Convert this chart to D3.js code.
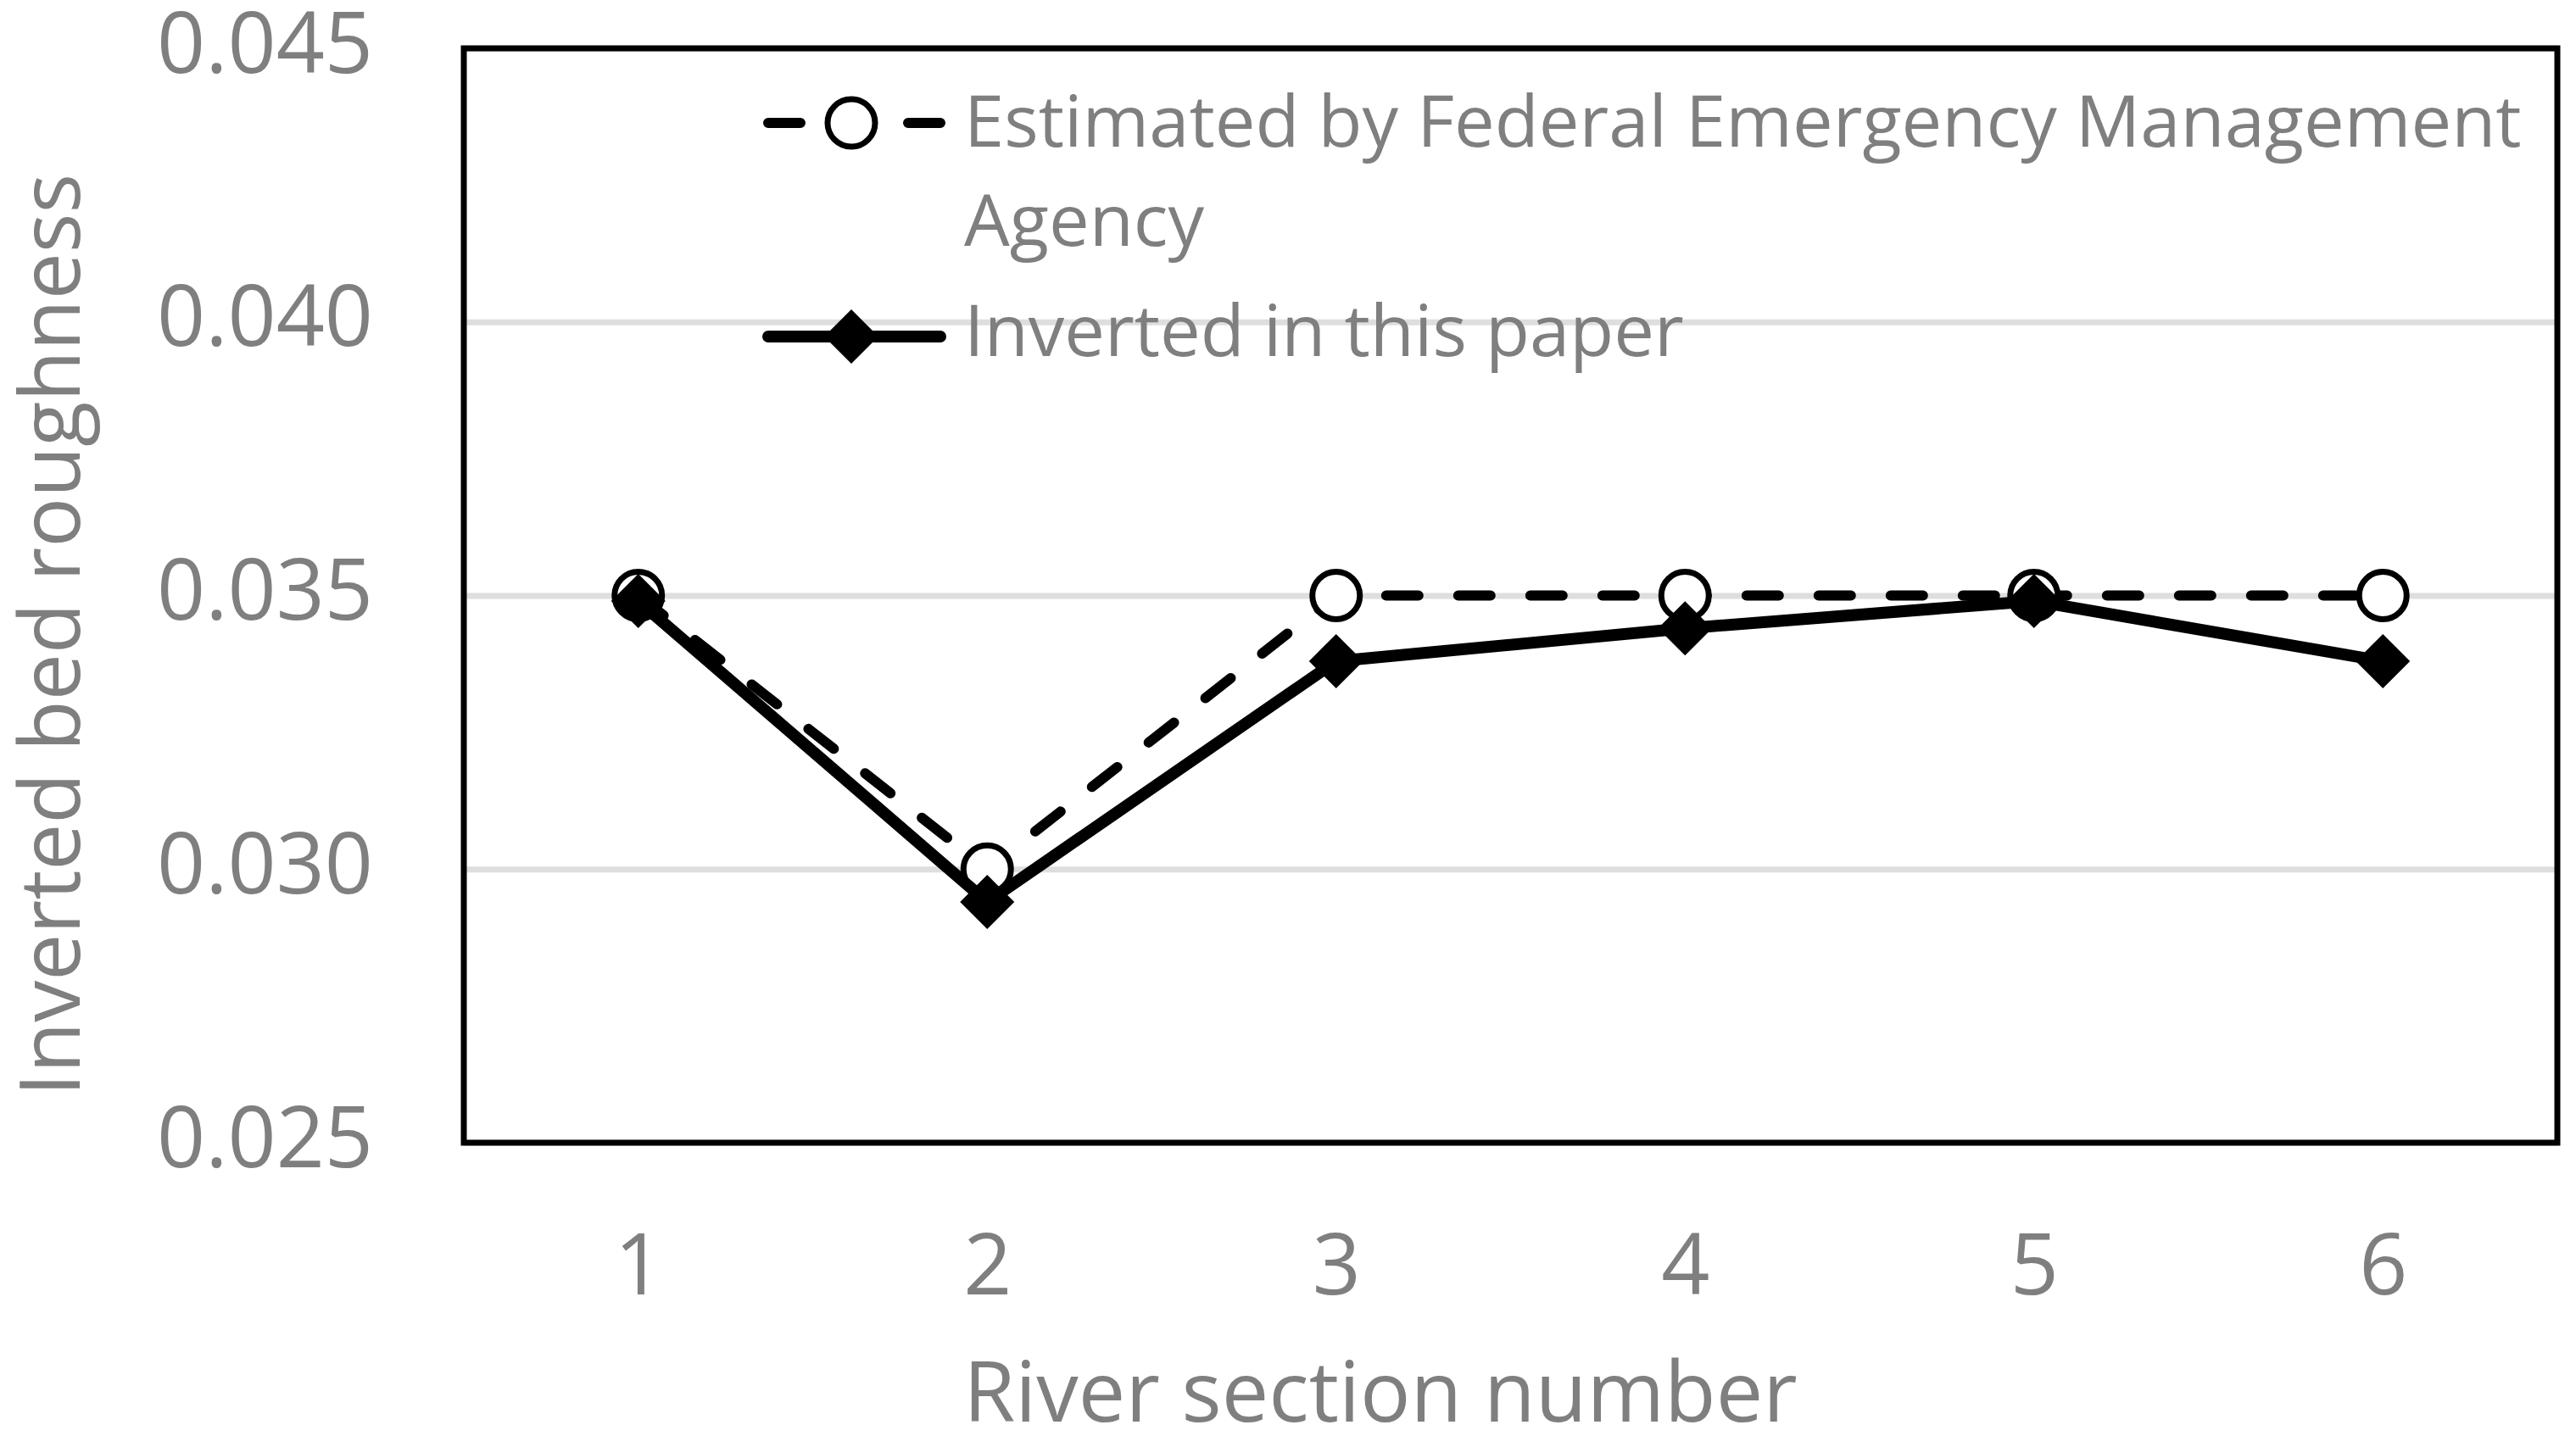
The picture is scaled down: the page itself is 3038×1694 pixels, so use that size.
<!DOCTYPE html>
<html>
<head>
<meta charset="utf-8">
<script src="https://cdn.jsdelivr.net/npm/d3@7"></script>
<style>
  html, body { margin: 0; padding: 0; background: #ffffff; }
  svg { display: block; }
  text { font-family: "Open Sans", "Noto Sans", sans-serif; }
</style>
</head>
<body>
<svg id="chart" width="3038" height="1694"></svg>
<script>
// ---- data ----
const categories = ["1", "2", "3", "4", "5", "6"];
const femaValues = [0.035, 0.030, 0.035, 0.035, 0.035, 0.035];
const invertedValues = [0.0349, 0.0294, 0.0338, 0.0344, 0.0349, 0.0338];
const yTickValues = [0.025, 0.030, 0.035, 0.040, 0.045];
const seriesLabels = [
  ["Estimated by Federal Emergency Management", "Agency"],
  ["Inverted in this paper"]
];
const xAxisTitle = "River section number";
const yAxisTitle = "Inverted bed roughness";

// ---- layout ----
const W = 3038, H = 1694;
const plot = { left: 547, right: 3016, top: 57, bottom: 1348 };
const textColor = "#7f7f7f";

const svg = d3.select("#chart");
svg.append("rect").attr("width", W).attr("height", H).attr("fill", "#ffffff");

const x = d3.scalePoint().domain(categories).range([plot.left, plot.right]).padding(0.5);
const y = d3.scaleLinear().domain([0.025, 0.045]).range([plot.bottom, plot.top]);

// gridlines
const grid = svg.append("g")
  .attr("transform", `translate(${plot.left},0)`)
  .call(d3.axisLeft(y).tickValues(yTickValues).tickSize(-(plot.right - plot.left)).tickFormat(""));
grid.select(".domain").remove();
grid.selectAll("line").attr("stroke", "#dedede").attr("stroke-width", 7);

// y axis labels
const yAxis = svg.append("g")
  .attr("transform", `translate(${plot.left},0)`)
  .call(d3.axisLeft(y).tickValues(yTickValues).tickSize(0).tickPadding(107).tickFormat(d3.format(".3f")));
yAxis.select(".domain").remove();
yAxis.selectAll("text")
  .attr("fill", textColor).attr("font-size", 100).attr("dy", "0.28em")
  .style("font-family", '"Open Sans", "Noto Sans", sans-serif');

// x axis labels
const xAxis = svg.append("g")
  .attr("transform", `translate(0,${plot.bottom})`)
  .call(d3.axisBottom(x).tickSize(0).tickPadding(108));
xAxis.select(".domain").remove();
xAxis.selectAll("text")
  .attr("fill", textColor).attr("font-size", 100)
  .style("font-family", '"Open Sans", "Noto Sans", sans-serif');

// series 1: dashed with open circles
const dashPattern = "38,47";
const dashWidth = 12, solidWidth = 14;
const circleR = 28, circleStroke = 7;
const line = d3.line().x((d, i) => x(categories[i])).y(d => y(d));

svg.append("path")
  .datum(femaValues)
  .attr("d", line)
  .attr("fill", "none").attr("stroke", "#000").attr("stroke-width", dashWidth)
  .attr("stroke-dasharray", dashPattern).attr("stroke-linecap", "round")
  .attr("stroke-linejoin", "round");

svg.append("g").selectAll("circle")
  .data(femaValues).join("circle")
  .attr("cx", (d, i) => x(categories[i])).attr("cy", d => y(d))
  .attr("r", circleR).attr("fill", "#fff").attr("stroke", "#000").attr("stroke-width", circleStroke);

// series 2: solid with diamonds
svg.append("path")
  .datum(invertedValues)
  .attr("d", line)
  .attr("fill", "none").attr("stroke", "#000").attr("stroke-width", solidWidth)
  .attr("stroke-linejoin", "round");

const diamond = d3.symbol().type(d3.symbolSquare).size(2048);
svg.append("g").selectAll("path")
  .data(invertedValues).join("path")
  .attr("d", diamond)
  .attr("transform", (d, i) => `translate(${x(categories[i])},${y(d)}) rotate(45)`)
  .attr("fill", "#000");

// plot border
svg.append("rect")
  .attr("x", plot.left).attr("y", plot.top)
  .attr("width", plot.right - plot.left).attr("height", plot.bottom - plot.top)
  .attr("fill", "none").attr("stroke", "#000").attr("stroke-width", 7);

// legend
const legend = svg.append("g");
const legX0 = 906, legX1 = 1109, legMid = 1004, legText = 1137;
const legItems = [
  { cy: 145, baseline: 173, dashed: true },
  { cy: 397, baseline: 420, dashed: false }
];
legItems.forEach((it, k) => {
  const l = legend.append("line")
    .attr("x1", legX0).attr("x2", legX1).attr("y1", it.cy).attr("y2", it.cy)
    .attr("stroke", "#000").attr("stroke-width", it.dashed ? dashWidth : solidWidth)
    .attr("stroke-linecap", "round");
  if (it.dashed) {
    l.attr("stroke-dasharray", "38,127");
    legend.append("circle").attr("cx", legMid).attr("cy", it.cy).attr("r", circleR)
      .attr("fill", "#fff").attr("stroke", "#000").attr("stroke-width", circleStroke);
  } else {
    legend.append("path").attr("d", diamond)
      .attr("transform", `translate(${legMid},${it.cy}) rotate(45)`).attr("fill", "#000");
  }
  const t = legend.append("text")
    .attr("x", legText).attr("y", it.baseline)
    .attr("fill", textColor).attr("font-size", 85);
  seriesLabels[k].forEach((s, j) => {
    t.append("tspan").attr("x", legText).attr("dy", j === 0 ? 0 : 117).text(s);
  });
});

// axis titles
svg.append("text")
  .attr("x", 1628).attr("y", 1677)
  .attr("text-anchor", "middle").attr("fill", textColor).attr("font-size", 99)
  .text(xAxisTitle);

svg.append("text")
  .attr("transform", "translate(94,749) rotate(-90)")
  .attr("text-anchor", "middle").attr("fill", textColor).attr("font-size", 98)
  .text(yAxisTitle);
</script>
</body>
</html>
